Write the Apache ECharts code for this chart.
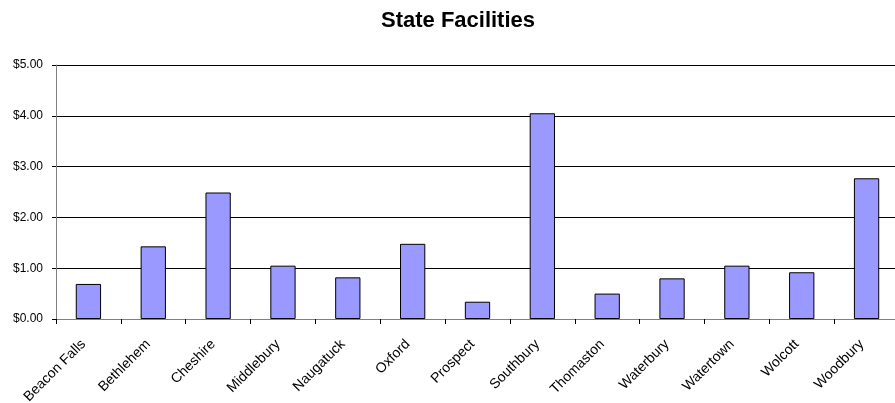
<!DOCTYPE html>
<html>
<head>
<meta charset="utf-8">
<script src="https://cdn.jsdelivr.net/npm/echarts@6/dist/echarts.min.js"></script>
<style>
html,body{margin:0;padding:0;background:#fff;}
#chart{width:895px;height:403px;}
</style>
</head>
<body>
<div id="chart"></div>
<script>
const titleText = 'State Facilities';
const categories = ['Beacon Falls','Bethlehem','Cheshire','Middlebury','Naugatuck','Oxford','Prospect','Southbury','Thomaston','Waterbury','Watertown','Wolcott','Woodbury'];
const values = [0.69, 1.43, 2.49, 1.05, 0.82, 1.48, 0.34, 4.05, 0.50, 0.80, 1.05, 0.92, 2.77];
const yMin = 0, yMax = 5, yInterval = 1;

const chart = echarts.init(document.getElementById('chart'), null, {renderer:'canvas'});
chart.setOption({
  backgroundColor:'#ffffff',
  animation:false,
  title:{
    text:titleText,
    left:453, top:5, textAlign:'center',
    textStyle:{fontFamily:'Liberation Sans, Arial, sans-serif', fontWeight:'bold', fontSize:22, color:'#000'}
  },
  grid:{left:56, right:-4, top:65, bottom:84, containLabel:false, outerBoundsMode:'none'},
  xAxis:{
    type:'category',
    data:categories,
    boundaryGap:true,
    axisLine:{lineStyle:{color:'#808080', width:1}},
    axisTick:{show:true, length:5, lineStyle:{color:'#000'}},
    axisLabel:{rotate:45, interval:0, margin:18, padding:[0,7,0,0], fontFamily:'Liberation Sans, Arial, sans-serif', fontSize:14, color:'#000'}
  },
  yAxis:{
    type:'value',
    min:yMin, max:yMax, interval:yInterval,
    axisLine:{show:true, lineStyle:{color:'#808080', width:1}},
    axisTick:{show:true, length:4, lineStyle:{color:'#000'}},
    splitLine:{show:true, lineStyle:{color:'#000', width:1}},
    axisLabel:{margin:13, formatter:v=>'$'+v.toFixed(2), fontFamily:'Liberation Sans, Arial, sans-serif', fontSize:12, color:'#000'}
  },
  series:[{
    type:'bar',
    data:values,
    barWidth:'39%',
    itemStyle:{color:'#9999FF', borderColor:'#000', borderWidth:1}
  }]
});
</script>
</body>
</html>
